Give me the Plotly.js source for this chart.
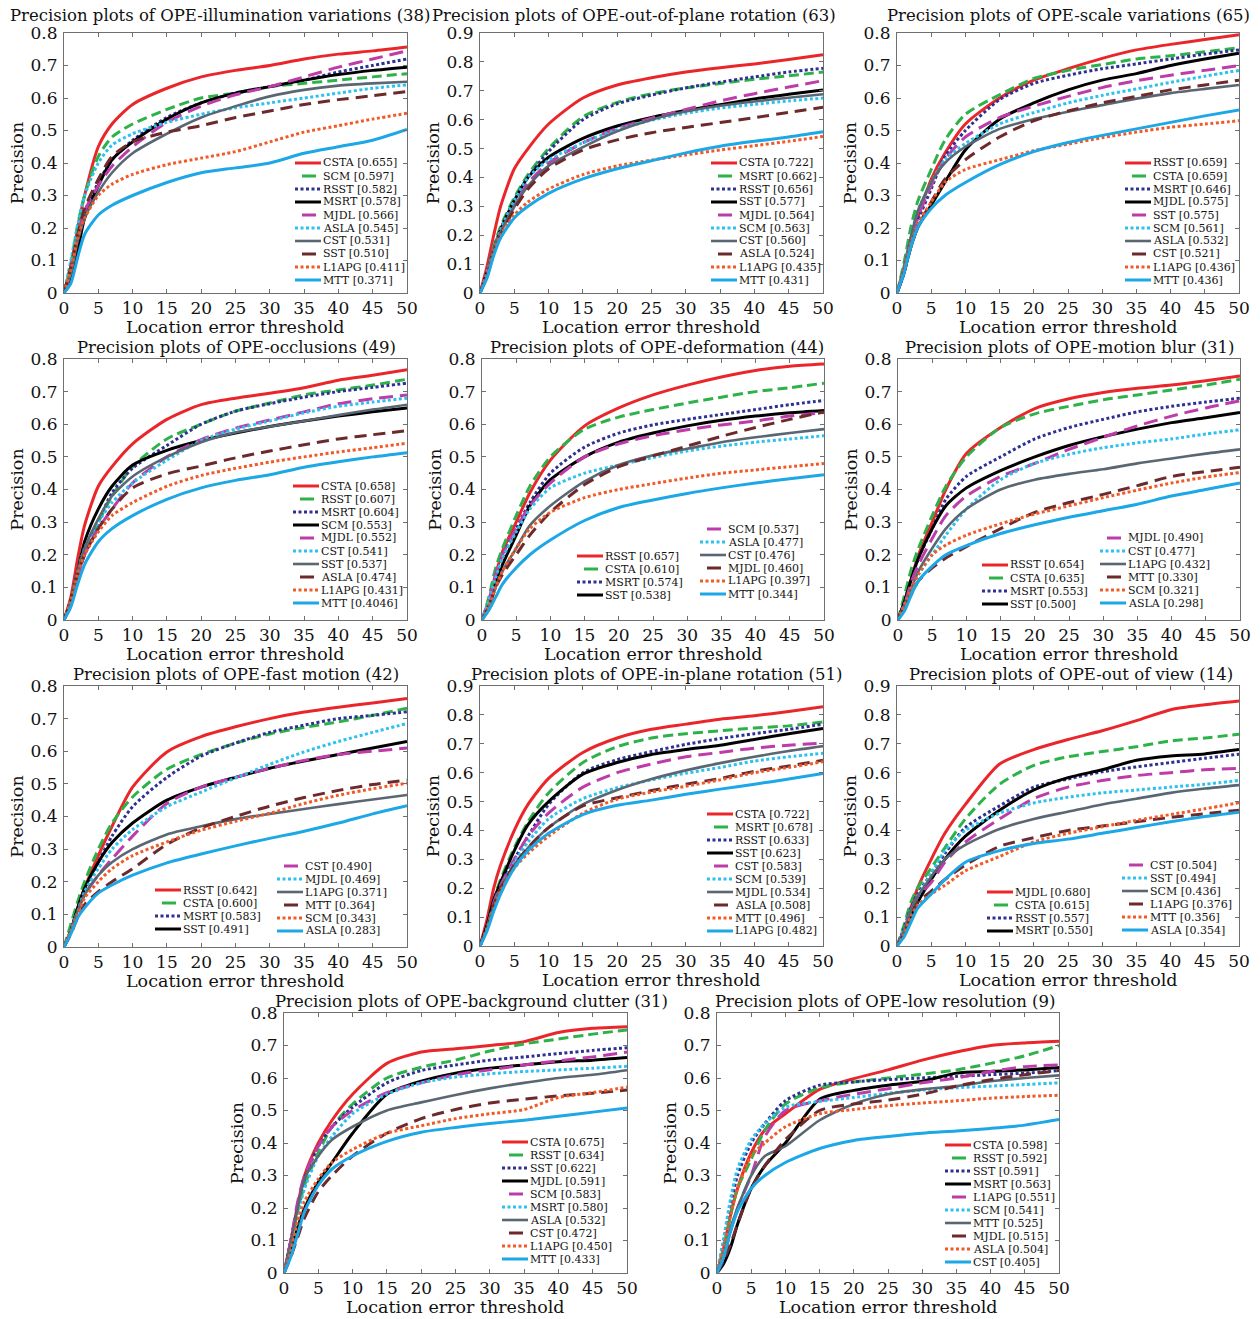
<!DOCTYPE html>
<html><head><meta charset="utf-8">
<script src="https://cdn.plot.ly/plotly-3.0.1.min.js"></script>
<style>html,body{margin:0;padding:0;background:#fff}#chart{width:1260px;height:1319px}</style>
</head><body><div id="chart"></div>
<script>
// ---------- DATA ----------
const thresholds = [0,1,2,3,5,7,10,15,20,25,30,35,40,45,50];
const xTickVals = [0,5,10,15,20,25,30,35,40,45,50];
const yTickVals8 = [0,0.1,0.2,0.3,0.4,0.5,0.6,0.7,0.8];
const yTickVals9 = [0,0.1,0.2,0.3,0.4,0.5,0.6,0.7,0.8,0.9];
const xTitleText = 'Location error threshold';
const yTitleText = 'Precision';

const illumTitle = 'Precision plots of OPE-illumination variations (38)';
const illumNames = ['CSTA','SCM','RSST','MSRT','MJDL','ASLA','CST','SST','L1APG','MTT'];
const illumScores = ['0.655','0.597','0.582','0.578','0.566','0.545','0.531','0.510','0.411','0.371'];
const illumCurves = [
 [0,0.08,0.2,0.3,0.45,0.52,0.58,0.63,0.665,0.685,0.70,0.72,0.735,0.745,0.757],
 [0,0.09,0.21,0.3,0.42,0.48,0.52,0.565,0.6,0.615,0.635,0.645,0.655,0.665,0.675],
 [0,0.08,0.18,0.25,0.34,0.41,0.47,0.54,0.585,0.615,0.635,0.655,0.68,0.70,0.72],
 [0,0.04,0.13,0.23,0.33,0.41,0.465,0.535,0.585,0.615,0.635,0.655,0.672,0.685,0.695],
 [0,0.08,0.17,0.25,0.33,0.39,0.45,0.525,0.575,0.61,0.635,0.665,0.695,0.72,0.745],
 [0,0.1,0.21,0.3,0.4,0.455,0.49,0.525,0.55,0.57,0.585,0.6,0.615,0.63,0.64],
 [0,0.06,0.16,0.23,0.31,0.37,0.43,0.49,0.54,0.575,0.605,0.625,0.638,0.645,0.65],
 [0,0.08,0.18,0.26,0.35,0.42,0.465,0.495,0.515,0.54,0.56,0.58,0.595,0.607,0.62],
 [0,0.07,0.17,0.23,0.3,0.335,0.365,0.395,0.415,0.435,0.465,0.495,0.515,0.535,0.553],
 [0,0.03,0.11,0.18,0.24,0.27,0.3,0.34,0.37,0.385,0.40,0.43,0.45,0.47,0.503]
];

const oopTitle = 'Precision plots of OPE-out-of-plane rotation (63)';
const oopNames = ['CSTA','MSRT','RSST','SST','MJDL','SCM','CST','ASLA','L1APG','MTT'];
const oopScores = ['0.722','0.662','0.656','0.577','0.564','0.563','0.560','0.524','0.435','0.431'];
const oopCurves = [
 [0,0.09,0.2,0.3,0.43,0.5,0.585,0.675,0.72,0.745,0.765,0.78,0.793,0.808,0.825],
 [0,0.07,0.16,0.23,0.33,0.41,0.5,0.61,0.66,0.69,0.71,0.725,0.74,0.752,0.765],
 [0,0.07,0.15,0.22,0.32,0.4,0.49,0.6,0.655,0.685,0.71,0.73,0.748,0.765,0.778],
 [0,0.07,0.15,0.22,0.32,0.4,0.47,0.535,0.578,0.608,0.632,0.652,0.672,0.688,0.703],
 [0,0.07,0.15,0.21,0.3,0.38,0.45,0.52,0.57,0.605,0.635,0.665,0.69,0.713,0.735],
 [0,0.07,0.15,0.22,0.32,0.4,0.46,0.52,0.565,0.598,0.622,0.64,0.653,0.665,0.675],
 [0,0.06,0.15,0.21,0.3,0.37,0.44,0.505,0.56,0.6,0.628,0.648,0.663,0.676,0.688],
 [0,0.06,0.14,0.2,0.29,0.36,0.43,0.495,0.53,0.555,0.573,0.59,0.607,0.625,0.643],
 [0,0.06,0.14,0.2,0.27,0.315,0.36,0.41,0.44,0.46,0.478,0.495,0.51,0.525,0.542],
 [0,0.05,0.13,0.19,0.26,0.3,0.345,0.395,0.43,0.458,0.485,0.508,0.525,0.54,0.558]
];

const scaleTitle = 'Precision plots of OPE-scale variations (65)';
const scaleNames = ['RSST','CSTA','MSRT','MJDL','SST','SCM','ASLA','CST','L1APG','MTT'];
const scaleScores = ['0.659','0.659','0.646','0.575','0.575','0.561','0.532','0.521','0.436','0.436'];
const scaleCurves = [
 [0,0.07,0.16,0.23,0.35,0.43,0.52,0.6,0.655,0.69,0.722,0.748,0.765,0.78,0.795],
 [0,0.09,0.2,0.28,0.38,0.47,0.55,0.61,0.66,0.685,0.703,0.72,0.73,0.742,0.755],
 [0,0.06,0.15,0.22,0.32,0.42,0.5,0.595,0.645,0.67,0.69,0.705,0.72,0.735,0.748],
 [0,0.06,0.14,0.2,0.27,0.34,0.44,0.535,0.585,0.625,0.655,0.675,0.7,0.72,0.738],
 [0,0.07,0.16,0.23,0.33,0.41,0.48,0.54,0.575,0.605,0.632,0.653,0.67,0.685,0.7],
 [0,0.08,0.17,0.25,0.34,0.41,0.46,0.52,0.555,0.585,0.608,0.628,0.648,0.667,0.685],
 [0,0.08,0.17,0.25,0.34,0.4,0.45,0.505,0.535,0.558,0.578,0.598,0.615,0.628,0.64],
 [0,0.06,0.14,0.2,0.28,0.35,0.41,0.48,0.53,0.56,0.585,0.605,0.625,0.64,0.655],
 [0,0.07,0.15,0.21,0.28,0.34,0.38,0.41,0.438,0.458,0.478,0.495,0.51,0.52,0.53],
 [0,0.06,0.14,0.2,0.26,0.3,0.34,0.395,0.435,0.463,0.485,0.505,0.525,0.545,0.563]
];

const occTitle = 'Precision plots of OPE-occlusions (49)';
const occNames = ['CSTA','RSST','MSRT','SCM','MJDL','CST','SST','ASLA','L1APG','MTT'];
const occScores = ['0.658','0.607','0.604','0.553','0.552','0.541','0.537','0.474','0.431','0.4046'];
const occCurves = [
 [0,0.07,0.19,0.29,0.41,0.47,0.54,0.615,0.66,0.68,0.695,0.712,0.735,0.75,0.767],
 [0,0.06,0.14,0.2,0.3,0.38,0.47,0.555,0.6,0.64,0.665,0.69,0.705,0.72,0.738],
 [0,0.06,0.14,0.2,0.3,0.39,0.465,0.535,0.6,0.64,0.663,0.683,0.7,0.713,0.726],
 [0,0.06,0.15,0.24,0.34,0.41,0.475,0.52,0.55,0.573,0.593,0.61,0.625,0.638,0.65],
 [0,0.05,0.13,0.2,0.28,0.34,0.42,0.5,0.553,0.588,0.613,0.638,0.663,0.678,0.69],
 [0,0.06,0.15,0.22,0.3,0.36,0.42,0.49,0.55,0.585,0.61,0.635,0.655,0.668,0.68],
 [0,0.06,0.15,0.22,0.31,0.38,0.44,0.5,0.545,0.575,0.593,0.61,0.628,0.645,0.66],
 [0,0.06,0.14,0.2,0.28,0.34,0.405,0.448,0.472,0.497,0.518,0.537,0.555,0.568,0.58],
 [0,0.06,0.14,0.2,0.27,0.32,0.36,0.41,0.443,0.465,0.484,0.5,0.515,0.528,0.542],
 [0,0.04,0.11,0.17,0.24,0.28,0.32,0.37,0.405,0.428,0.445,0.468,0.485,0.5,0.513]
];

const defTitle = 'Precision plots of OPE-deformation (44)';
const defNames = ['RSST','CSTA','MSRT','SST','SCM','ASLA','CST','MJDL','L1APG','MTT'];
const defScores = ['0.657','0.610','0.574','0.538','0.537','0.477','0.476','0.460','0.397','0.344'];
const defCurves = [
 [0,0.06,0.14,0.21,0.3,0.39,0.49,0.595,0.65,0.69,0.72,0.745,0.765,0.778,0.785],
 [0,0.07,0.16,0.22,0.32,0.41,0.5,0.585,0.622,0.645,0.665,0.683,0.7,0.712,0.726],
 [0,0.05,0.12,0.19,0.28,0.36,0.45,0.53,0.573,0.598,0.615,0.63,0.645,0.66,0.673],
 [0,0.04,0.11,0.17,0.26,0.35,0.43,0.5,0.545,0.573,0.595,0.612,0.625,0.635,0.642],
 [0,0.06,0.14,0.2,0.28,0.35,0.42,0.5,0.54,0.565,0.583,0.598,0.61,0.625,0.636],
 [0,0.06,0.13,0.19,0.27,0.34,0.405,0.45,0.475,0.498,0.518,0.533,0.545,0.555,0.565],
 [0,0.04,0.1,0.15,0.22,0.29,0.35,0.425,0.475,0.505,0.525,0.545,0.56,0.573,0.585],
 [0,0.04,0.1,0.14,0.2,0.26,0.33,0.415,0.47,0.503,0.533,0.563,0.59,0.615,0.638],
 [0,0.04,0.1,0.15,0.22,0.28,0.33,0.375,0.4,0.418,0.435,0.45,0.46,0.47,0.48],
 [0,0.03,0.07,0.11,0.16,0.2,0.245,0.305,0.345,0.368,0.388,0.405,0.42,0.433,0.445]
];

const mbTitle = 'Precision plots of OPE-motion blur (31)';
const mbNames = ['RSST','CSTA','MSRT','SST','MJDL','CST','L1APG','MTT','SCM','ASLA'];
const mbScores = ['0.654','0.635','0.553','0.500','0.490','0.477','0.432','0.330','0.321','0.298'];
const mbCurves = [
 [0,0.06,0.13,0.2,0.3,0.4,0.51,0.59,0.648,0.678,0.697,0.71,0.72,0.733,0.748],
 [0,0.08,0.16,0.22,0.32,0.41,0.5,0.59,0.632,0.655,0.675,0.69,0.705,0.72,0.738],
 [0,0.06,0.13,0.19,0.28,0.37,0.44,0.5,0.555,0.59,0.615,0.638,0.655,0.668,0.68],
 [0,0.06,0.13,0.19,0.28,0.35,0.405,0.458,0.5,0.535,0.562,0.585,0.605,0.62,0.636],
 [0,0.05,0.12,0.17,0.25,0.32,0.38,0.44,0.48,0.523,0.56,0.595,0.625,0.65,0.672],
 [0,0.05,0.1,0.14,0.2,0.26,0.34,0.43,0.48,0.508,0.528,0.543,0.555,0.57,0.583],
 [0,0.05,0.1,0.15,0.22,0.28,0.34,0.4,0.43,0.448,0.462,0.48,0.495,0.51,0.523],
 [0,0.04,0.08,0.12,0.16,0.19,0.225,0.28,0.33,0.36,0.385,0.412,0.44,0.455,0.468],
 [0,0.05,0.1,0.14,0.2,0.23,0.26,0.295,0.325,0.35,0.375,0.398,0.42,0.438,0.452],
 [0,0.03,0.08,0.12,0.165,0.2,0.228,0.265,0.292,0.315,0.335,0.355,0.38,0.4,0.42]
];

const fmTitle = 'Precision plots of OPE-fast motion (42)';
const fmNames = ['RSST','CSTA','MSRT','SST','CST','MJDL','L1APG','MTT','SCM','ASLA'];
const fmScores = ['0.642','0.600','0.583','0.491','0.490','0.469','0.371','0.364','0.343','0.283'];
const fmCurves = [
 [0,0.05,0.12,0.18,0.28,0.37,0.49,0.598,0.645,0.675,0.7,0.72,0.735,0.748,0.762],
 [0,0.07,0.14,0.2,0.3,0.38,0.46,0.545,0.59,0.625,0.653,0.673,0.69,0.71,0.732],
 [0,0.05,0.12,0.17,0.26,0.34,0.43,0.52,0.585,0.625,0.658,0.68,0.7,0.71,0.721],
 [0,0.05,0.12,0.18,0.26,0.32,0.38,0.45,0.49,0.52,0.548,0.57,0.59,0.61,0.63],
 [0,0.05,0.11,0.16,0.22,0.27,0.34,0.44,0.49,0.52,0.548,0.572,0.59,0.6,0.61],
 [0,0.05,0.11,0.17,0.24,0.3,0.36,0.43,0.475,0.518,0.56,0.598,0.63,0.658,0.685],
 [0,0.05,0.11,0.16,0.22,0.26,0.3,0.345,0.37,0.392,0.408,0.423,0.438,0.452,0.466],
 [0,0.04,0.09,0.13,0.17,0.2,0.24,0.315,0.365,0.4,0.432,0.458,0.48,0.498,0.512],
 [0,0.05,0.1,0.15,0.2,0.24,0.28,0.322,0.358,0.385,0.41,0.44,0.465,0.485,0.502],
 [0,0.04,0.09,0.12,0.165,0.19,0.22,0.258,0.285,0.31,0.333,0.355,0.38,0.408,0.433]
];

const iprTitle = 'Precision plots of OPE-in-plane rotation (51)';
const iprNames = ['CSTA','MSRT','RSST','SST','CST','SCM','MJDL','ASLA','MTT','L1APG'];
const iprScores = ['0.722','0.678','0.633','0.623','0.583','0.539','0.534','0.508','0.496','0.482'];
const iprCurves = [
 [0,0.09,0.2,0.28,0.4,0.49,0.58,0.67,0.72,0.75,0.768,0.785,0.797,0.812,0.828],
 [0,0.07,0.16,0.23,0.34,0.43,0.53,0.635,0.69,0.72,0.735,0.745,0.755,0.762,0.776],
 [0,0.07,0.15,0.21,0.3,0.38,0.49,0.6,0.645,0.673,0.698,0.718,0.735,0.75,0.768],
 [0,0.07,0.16,0.22,0.33,0.42,0.5,0.595,0.635,0.663,0.68,0.695,0.715,0.735,0.753],
 [0,0.06,0.15,0.21,0.3,0.38,0.46,0.55,0.6,0.63,0.655,0.67,0.685,0.695,0.702],
 [0,0.06,0.14,0.2,0.29,0.36,0.44,0.51,0.548,0.575,0.598,0.618,0.64,0.655,0.667],
 [0,0.06,0.14,0.2,0.28,0.34,0.41,0.49,0.54,0.578,0.608,0.633,0.655,0.675,0.692],
 [0,0.06,0.14,0.2,0.28,0.34,0.41,0.485,0.513,0.538,0.56,0.58,0.605,0.623,0.643],
 [0,0.06,0.13,0.19,0.27,0.32,0.38,0.46,0.508,0.533,0.553,0.575,0.6,0.618,0.638],
 [0,0.05,0.12,0.18,0.27,0.33,0.39,0.455,0.487,0.505,0.525,0.543,0.56,0.578,0.597]
];

const ovTitle = 'Precision plots of OPE-out of view (14)';
const ovNames = ['MJDL','CSTA','RSST','MSRT','CST','SST','SCM','L1APG','MTT','ASLA'];
const ovScores = ['0.680','0.615','0.557','0.550','0.504','0.494','0.436','0.376','0.356','0.354'];
const ovCurves = [
 [0,0.05,0.13,0.2,0.3,0.39,0.49,0.63,0.68,0.715,0.745,0.78,0.818,0.835,0.848],
 [0,0.07,0.15,0.2,0.27,0.34,0.44,0.56,0.625,0.655,0.673,0.69,0.71,0.72,0.733],
 [0,0.06,0.13,0.18,0.25,0.32,0.41,0.485,0.55,0.578,0.603,0.62,0.635,0.65,0.664],
 [0,0.04,0.1,0.15,0.23,0.3,0.38,0.47,0.54,0.583,0.61,0.643,0.658,0.665,0.68],
 [0,0.05,0.12,0.17,0.22,0.29,0.36,0.44,0.51,0.55,0.573,0.59,0.6,0.61,0.615],
 [0,0.05,0.12,0.17,0.25,0.33,0.4,0.46,0.495,0.515,0.53,0.54,0.55,0.56,0.573],
 [0,0.05,0.12,0.17,0.24,0.3,0.35,0.405,0.44,0.465,0.49,0.51,0.53,0.545,0.557],
 [0,0.04,0.1,0.15,0.19,0.23,0.28,0.345,0.375,0.4,0.415,0.43,0.445,0.458,0.47],
 [0,0.04,0.1,0.14,0.18,0.21,0.26,0.31,0.36,0.39,0.413,0.435,0.455,0.475,0.496],
 [0,0.03,0.08,0.13,0.18,0.23,0.29,0.33,0.355,0.37,0.39,0.41,0.43,0.448,0.463]
];

const bcTitle = 'Precision plots of OPE-background clutter (31)';
const bcNames = ['CSTA','RSST','SST','MJDL','SCM','MSRT','ASLA','CST','L1APG','MTT'];
const bcScores = ['0.675','0.634','0.622','0.591','0.583','0.580','0.532','0.472','0.450','0.433'];
const bcCurves = [
 [0,0.1,0.21,0.3,0.4,0.47,0.55,0.645,0.68,0.69,0.7,0.712,0.74,0.753,0.758],
 [0,0.09,0.19,0.27,0.37,0.45,0.52,0.6,0.633,0.655,0.683,0.705,0.72,0.735,0.748],
 [0,0.1,0.2,0.29,0.39,0.45,0.51,0.585,0.623,0.64,0.655,0.665,0.675,0.685,0.693],
 [0,0.06,0.14,0.2,0.28,0.34,0.43,0.55,0.59,0.615,0.63,0.64,0.65,0.655,0.663],
 [0,0.1,0.22,0.3,0.39,0.45,0.5,0.555,0.585,0.61,0.625,0.64,0.653,0.665,0.68],
 [0,0.08,0.18,0.26,0.36,0.42,0.49,0.55,0.585,0.603,0.613,0.62,0.625,0.63,0.636],
 [0,0.09,0.2,0.29,0.36,0.41,0.45,0.5,0.525,0.548,0.568,0.585,0.6,0.61,0.624],
 [0,0.05,0.11,0.17,0.25,0.3,0.36,0.43,0.475,0.503,0.523,0.535,0.545,0.553,0.563],
 [0,0.07,0.16,0.22,0.29,0.34,0.38,0.43,0.453,0.475,0.49,0.503,0.54,0.555,0.572],
 [0,0.05,0.12,0.19,0.27,0.32,0.36,0.405,0.433,0.448,0.46,0.47,0.482,0.495,0.508]
];

const lrTitle = 'Precision plots of OPE-low resolution (9)';
const lrNames = ['CSTA','RSST','SST','MSRT','L1APG','SCM','MTT','MJDL','ASLA','CST'];
const lrScores = ['0.598','0.592','0.591','0.563','0.551','0.541','0.525','0.515','0.504','0.405'];
const lrCurves = [
 [0,0.08,0.18,0.26,0.37,0.44,0.49,0.565,0.598,0.625,0.655,0.68,0.7,0.708,0.713],
 [0,0.08,0.18,0.26,0.35,0.44,0.52,0.57,0.588,0.6,0.612,0.625,0.645,0.668,0.7],
 [0,0.1,0.21,0.3,0.4,0.46,0.53,0.578,0.588,0.595,0.6,0.605,0.61,0.615,0.623],
 [0,0.03,0.08,0.15,0.26,0.33,0.4,0.535,0.562,0.578,0.59,0.615,0.62,0.625,0.632],
 [0,0.05,0.13,0.2,0.3,0.42,0.5,0.53,0.55,0.567,0.585,0.6,0.62,0.635,0.64],
 [0,0.11,0.23,0.32,0.41,0.46,0.51,0.528,0.54,0.553,0.563,0.57,0.575,0.58,0.585],
 [0,0.06,0.14,0.2,0.3,0.36,0.39,0.47,0.52,0.55,0.565,0.575,0.59,0.6,0.608],
 [0,0.04,0.09,0.15,0.26,0.33,0.41,0.5,0.52,0.532,0.55,0.575,0.595,0.61,0.623],
 [0,0.08,0.18,0.26,0.36,0.4,0.45,0.49,0.503,0.515,0.523,0.53,0.538,0.543,0.547],
 [0,0.05,0.13,0.19,0.26,0.3,0.34,0.383,0.408,0.42,0.43,0.437,0.445,0.455,0.472]
];

// ---------- STYLE / LAYOUT CONFIG ----------
const W = 1260, H = 1319;
const FONT = 'DejaVu Serif';
const styles = [
 {color:'#ea262b', dash:'solid', width:3, kind:'solid'},
 {color:'#2db24a', dash:'10px,5px', width:3, kind:'dash'},
 {color:'#2e3192', dash:'3px,2.5px', width:3, kind:'dot'},
 {color:'#000000', dash:'solid', width:3, kind:'solid'},
 {color:'#bd3ca9', dash:'14px,7px', width:3, kind:'dash'},
 {color:'#2cc1ef', dash:'3px,2.5px', width:3, kind:'dot'},
 {color:'#5a6773', dash:'solid', width:2.6, kind:'solid'},
 {color:'#6d2a2c', dash:'12px,7px', width:3, kind:'dash'},
 {color:'#f15a27', dash:'3px,2.5px', width:3, kind:'dot'},
 {color:'#1ca7e6', dash:'solid', width:3, kind:'solid'}
];

const plots = [
 {title:illumTitle, ymax:0.8, names:illumNames, scores:illumScores, curves:illumCurves,
  box:[64,407,33,293], tc:[221,16], leg:[{dx:231,dy:130,from:0,n:10}]},
 {title:oopTitle, ymax:0.9, names:oopNames, scores:oopScores, curves:oopCurves,
  box:[480,823,33,293], tc:[634,16], leg:[{dx:231,dy:130,from:0,n:10}]},
 {title:scaleTitle, ymax:0.8, names:scaleNames, scores:scaleScores, curves:scaleCurves,
  box:[897,1239,33,293], tc:[1068,16], leg:[{dx:228,dy:130,from:0,n:10}]},
 {title:occTitle, ymax:0.8, names:occNames, scores:occScores, curves:occCurves,
  box:[64,407,359,620], tc:[236,347.5], leg:[{dx:229,dy:127,from:0,n:10}]},
 {title:defTitle, ymax:0.8, names:defNames, scores:defScores, curves:defCurves,
  box:[482,824,359,620], tc:[657,347.5], leg:[{dx:95,dy:197,from:0,n:4},{dx:218,dy:170,from:4,n:6}]},
 {title:mbTitle, ymax:0.8, names:mbNames, scores:mbScores, curves:mbCurves,
  box:[898,1240,359,620], tc:[1070,347.5], leg:[{dx:84,dy:206,from:0,n:4},{dx:202,dy:179,from:4,n:6}]},
 {title:fmTitle, ymax:0.8, names:fmNames, scores:fmScores, curves:fmCurves,
  box:[64,407,686,947], tc:[236,674.5], leg:[{dx:91,dy:204,from:0,n:4},{dx:213,dy:180,from:4,n:6}]},
 {title:iprTitle, ymax:0.9, names:iprNames, scores:iprScores, curves:iprCurves,
  box:[480,823,686,946], tc:[656,674.5], leg:[{dx:227,dy:128,from:0,n:10}]},
 {title:ovTitle, ymax:0.9, names:ovNames, scores:ovScores, curves:ovCurves,
  box:[897,1239,686,946], tc:[1071,674.5], leg:[{dx:90,dy:206,from:0,n:4},{dx:225,dy:179,from:4,n:6}]},
 {title:bcTitle, ymax:0.8, names:bcNames, scores:bcScores, curves:bcCurves,
  box:[284,627,1013,1273], tc:[471,1001], leg:[{dx:218,dy:129,from:0,n:10}]},
 {title:lrTitle, ymax:0.8, names:lrNames, scores:lrScores, curves:lrCurves,
  box:[717,1059,1013,1273], tc:[885,1001], leg:[{dx:228,dy:132,from:0,n:10}]}
];

const ROW = 13, SAMPLE = 26;
const px = v => v / W;
const py = v => 1 - v / H;

const traces = [];
const layout = {
  width: W, height: H,
  margin: {l:0, r:0, t:0, b:0},
  paper_bgcolor: '#fff', plot_bgcolor: '#fff',
  showlegend: false,
  font: {family: FONT, color: '#111'},
  shapes: [], annotations: []
};

plots.forEach((p, k) => {
  const suf = k === 0 ? '' : String(k + 1);
  const [l, r, t, b] = p.box;
  p.curves.forEach((c, i) => {
    const s = styles[i];
    traces.push({
      type: 'scatter', mode: 'lines', x: thresholds, y: c,
      xaxis: 'x' + suf, yaxis: 'y' + suf, name: p.names[i],
      line: {color: s.color, width: s.width, dash: s.dash, shape: 'spline', smoothing: 0.7},
      hoverinfo: 'skip', showlegend: false
    });
  });
  const common = {
    showline: true, mirror: 'ticks', linecolor: '#6f6f6f', linewidth: 1,
    ticks: 'inside', ticklen: 4, tickcolor: '#6f6f6f', tickwidth: 1,
    showgrid: false, zeroline: false, fixedrange: true, automargin: false,
    tickfont: {family: FONT, size: 17, color: '#111'}
  };
  const yt = p.ymax > 0.85 ? yTickVals9 : yTickVals8;
  layout['xaxis' + suf] = Object.assign({}, common, {
    domain: [px(l), px(r)], range: [0, 50], anchor: 'y' + suf,
    tickmode: 'array', tickvals: xTickVals, ticktext: xTickVals.map(String),
    ticklabelstandoff: 0
  });
  layout['yaxis' + suf] = Object.assign({}, common, {
    domain: [py(b), py(t)], range: [0, p.ymax], anchor: 'x' + suf,
    tickmode: 'array', tickvals: yt, ticktext: yt.map(String),
    ticklabelstandoff: 2,
    title: {text: yTitleText, font: {family: FONT, size: 17.5, color: '#111'}, standoff: 2}
  });
  // x-axis title placed under the tick labels
  layout.annotations.push({
    xref: 'paper', yref: 'paper', x: px((l + r) / 2), y: py(b + 34),
    xanchor: 'center', yanchor: 'middle', showarrow: false, borderpad: 0,
    text: xTitleText, font: {family: FONT, size: 17.5, color: '#111'}
  });
  // subplot title
  layout.annotations.push({
    xref: 'paper', yref: 'paper', x: px(p.tc[0]), y: py(p.tc[1]),
    xanchor: 'center', yanchor: 'middle', showarrow: false, borderpad: 0,
    text: p.title, font: {family: FONT, size: 16.5, color: '#111'}
  });
  // legend drawn as annotations + line samples
  p.leg.forEach(col => {
    for (let j = 0; j < col.n; j++) {
      const idx = col.from + j;
      const s = styles[idx];
      const yy = t + col.dy + j * ROW;
      const x0 = l + col.dx;
      let a = x0, z = x0 + SAMPLE, dash = 'solid';
      if (s.kind === 'dash') { a = x0 + 7; z = x0 + 21; }
      if (s.kind === 'dot') { dash = '3px,2.5px'; }
      layout.shapes.push({
        type: 'line', xref: 'paper', yref: 'paper',
        x0: px(a), x1: px(z), y0: py(yy), y1: py(yy),
        line: {color: s.color, width: s.width, dash: dash}
      });
      layout.annotations.push({
        xref: 'paper', yref: 'paper', x: px(x0 + SAMPLE + 1), y: py(yy),
        xanchor: 'left', yanchor: 'middle', showarrow: false, borderpad: 0,
        text: p.names[idx] + ' [' + p.scores[idx] + ']',
        font: {family: FONT, size: 11, color: '#111'}
      });
    }
  });
});

Plotly.newPlot('chart', traces, layout, {staticPlot: true, displayModeBar: false});
</script>
</body></html>
